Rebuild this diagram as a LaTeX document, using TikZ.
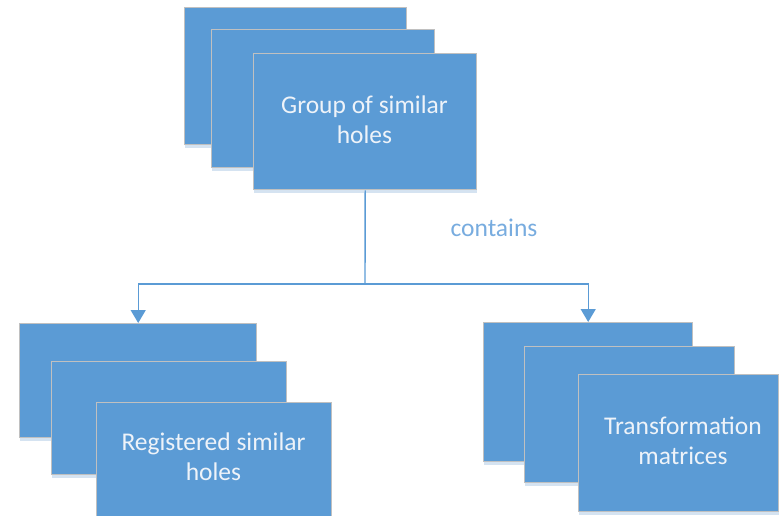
\documentclass[tikz,border=0pt]{standalone}
\usepackage{fontspec}
\setmainfont{Carlito}
\usetikzlibrary{arrows.meta}
\definecolor{boxblue}{HTML}{5B9BD5}
\definecolor{boxedge}{HTML}{C0C0C0}
\definecolor{boxshade}{HTML}{D5E3F1}
\definecolor{boxtext}{HTML}{EEF3F9}
\definecolor{linkblue}{HTML}{5B9BD5}
\definecolor{labelblue}{HTML}{78ACDF}
\tikzset{
  card/.style={rectangle, fill=boxblue, draw=boxedge, line width=1.4pt,
    inner sep=0pt, minimum width=#1},
  cardtext/.style={text=boxtext, font=\fontsize{25.5}{30}\selectfont, align=center},
  link/.style={draw=linkblue, line width=1.4pt},
  linkarrow/.style={link, -{Triangle[width=15pt,length=13pt]}},
}
\begin{document}
\begin{tikzpicture}[x=1pt,y=-1pt]
\useasboundingbox (0,0) rectangle (779,515);
\clip (0,0) rectangle (779,515);

% a card: pale strip underneath, then the blue panel
\newcommand{\cardat}[5]{% name, x0, y0, x1, y1
  \fill[boxshade] (#2+1,#5) rectangle (#4+1,#5+4);
  \node[card=#4-#2, minimum height=#5-#3, anchor=north west] (#1) at (#2,#3) {};
}

% top stack
\cardat{g1}{184}{7}{406}{144}
\cardat{g2}{211}{29}{434}{167}
\cardat{g3}{253}{53}{476}{189}
\node[cardtext] (gtext) at (364.5,120) {Group of similar\\holes};

% bottom-left stack
\cardat{l1}{19}{323}{256}{437}
\cardat{l2}{51}{361}{286}{474}
\cardat{l3}{96}{402}{331}{530}
\node[cardtext] (ltext) at (213.5,457) {Registered similar\\holes};

% bottom-right stack
\cardat{r1}{483}{322}{692}{461}
\cardat{r2}{524}{346}{734}{482}
\cardat{r3}{578}{374}{778}{511}
\node[cardtext] (rtext) at (683,441) {Transformation\\matrices};

% connectors
\coordinate (split) at (365,284);
\draw[link] (g3.south) -- (split);
\draw[linkarrow] (split) -| (l1.north);
\draw[linkarrow] (split) -| (r1.north);

\node[text=labelblue, font=\fontsize{25.5}{30}\selectfont] (contains) at (494,228) {contains};
\end{tikzpicture}
\end{document}
